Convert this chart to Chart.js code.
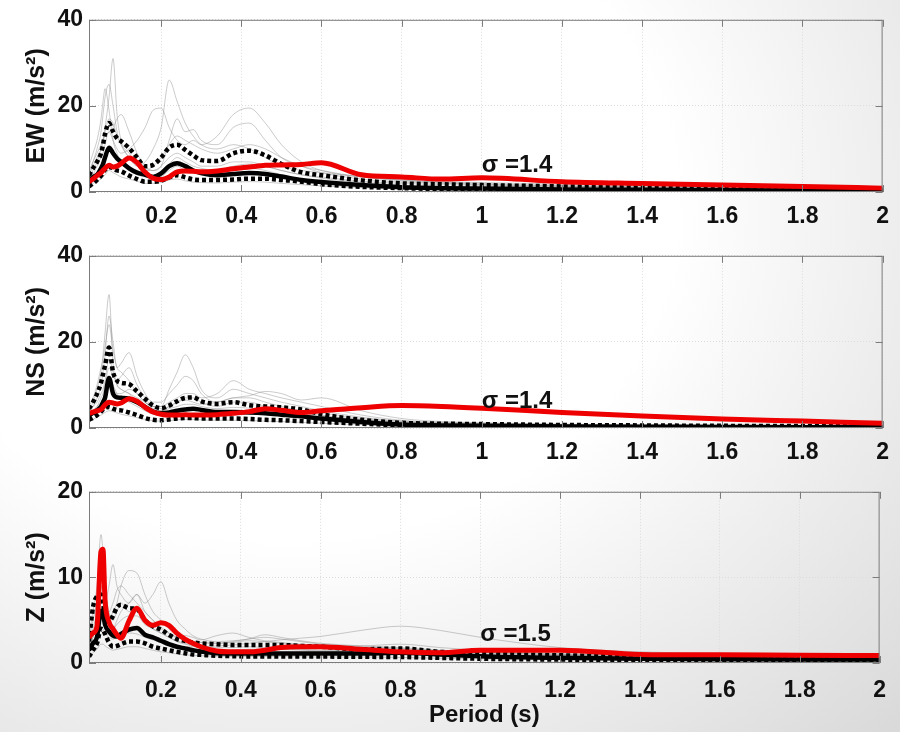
<!DOCTYPE html>
<html>
<head>
<meta charset="utf-8">
<script src="https://cdn.jsdelivr.net/npm/chart.js@4.4.0/dist/chart.umd.min.js"></script>
<style>
  body { margin: 0; width: 900px; height: 732px; overflow: hidden;
         background: radial-gradient(ellipse at 32% 28%, #ffffff 45%, #d9d9d9 100%); }
  canvas { position: absolute; left: 0; }
</style>
</head>
<body>
<canvas id="ew" width="900" height="236" style="top:0"></canvas>
<canvas id="ns" width="900" height="236" style="top:236px"></canvas>
<canvas id="z" width="900" height="260" style="top:472px"></canvas>
<script>
// periods (s) shared by every curve
const PERIOD = [0.02,0.03,0.04,0.05,0.055,0.06,0.07,0.08,0.09,0.1,0.12,0.14,0.16,0.18,0.2,0.22,0.24,0.26,0.28,0.3,0.34,0.38,0.42,0.46,0.5,0.55,0.6,0.7,0.8,0.9,1.0,1.2,1.4,1.6,1.8,2.0];
const XTICKS = [0.2,0.4,0.6,0.8,1,1.2,1.4,1.6,1.8,2];

// EW
const EW_RED = [2.4,3.0,3.8,4.5,5.0,5.5,6.2,5.8,6.0,6.6,7.9,6.8,4.6,3.2,2.9,3.5,4.7,4.9,4.8,4.7,4.9,5.4,5.8,6.2,6.3,6.4,6.8,4.0,3.5,3.0,3.3,2.4,2.0,1.65,1.3,0.9];
const EW_MED = [2.5,3.5,4.0,5.5,6.5,8.0,10.3,9.0,7.8,7.0,5.5,4.5,4.0,3.5,4.3,6.0,6.7,6.0,5.0,4.4,3.9,4.2,4.4,4.2,3.6,2.8,2.3,1.6,1.1,0.9,0.8,0.6,0.5,0.4,0.35,0.3];
const EW_HI = [3.9,5.5,7.0,9.0,11.0,13.5,16.0,14.0,12.5,11.8,10.2,8.0,6.0,6.3,8.0,10.3,11.0,9.8,8.5,7.4,7.2,9.0,9.6,8.5,6.5,4.6,3.9,2.7,2.0,1.8,1.6,1.3,1.0,0.8,0.7,0.6];
const EW_LO = [1.3,2.0,2.8,3.8,4.5,5.2,5.8,5.5,5.0,4.8,3.8,3.0,2.4,2.4,2.6,3.4,3.9,3.4,2.9,2.8,2.8,2.9,3.1,3.1,2.8,2.4,1.8,1.2,0.9,0.7,0.6,0.4,0.3,0.25,0.2,0.2];
const EW_REC = [
  [3,5,7,10,12,15,22,31,18,12,9,7,5,5,6,8,9,8,7,6,6,7,7,6,5,4,3.5,2.5,2,1.7,1.5,1.2,1,0.8,0.7,0.6],
  [4,7,10,14,18,22,25,20,14,11,8,6,7,10,15,26,21,16,13,11,10,11,10,8,6,5,4.5,3.5,2.8,2.4,2.2,1.8,1.5,1.2,1.0,0.9],
  [3,4,6,8,9,11,14,12,10,9,10,12,15,19,19.5,15,12,11,12,11,13,18,19.5,16,11,7,5,3.5,2.8,2.3,2,1.5,1.2,1.0,0.8,0.7],
  [5,7,9,11,12,13,14,15,17,18,14,9,6,5,6,12,17,14,14.5,12,11,15,16,12,8,6,5,3.5,2.6,2.1,1.8,1.4,1.1,0.9,0.8,0.7],
  [6,9,12,17,21,24,19,12,9,7,5,4,3.5,3,3.5,5,6,5,4.5,4,4,5,5.5,5,4,3,2.5,1.8,1.4,1.1,1,0.8,0.6,0.5,0.4,0.4],
  [1.5,2,2.5,3,3.5,4,5,4.5,4,3.5,3,2.5,2,2,2.2,2.8,3,2.6,2.3,2.2,2.1,2.3,2.4,2.3,2,1.7,1.4,1,0.7,0.6,0.5,0.4,0.3,0.25,0.2,0.2],
  [4,6,8,10,12,14,17,16,13,11,8,6,5,6,8,11,13,12,11,10,9,10,11,10,8,6,4.5,3,2.3,2,1.7,1.3,1.1,0.9,0.8,0.7],
  [2,3,4.5,6,7,8,10,9,8,7.5,6,5,4,3.5,4.5,6.5,8,7,6,5.5,5,6,6.5,6,5,4,3.2,2.2,1.6,1.3,1.1,0.9,0.7,0.6,0.5,0.4]
];

// NS
const NS_RED = [3.4,3.7,4.0,4.3,4.8,5.4,6.0,5.8,5.6,5.8,6.8,6.2,4.8,3.7,3.2,3.0,3.0,3.1,3.0,3.0,3.1,3.4,3.8,4.5,4.1,3.6,4.0,4.7,5.2,5.0,4.6,3.6,2.8,2.1,1.6,1.1];
const NS_MED = [3.0,3.5,4.1,5.0,6.0,7.0,11.6,8.0,7.1,7.0,6.8,6.0,4.9,3.8,3.4,3.6,4.0,4.3,4.5,4.2,3.7,3.7,3.6,3.4,3.1,2.7,2.2,1.4,0.8,0.6,0.5,0.35,0.3,0.25,0.2,0.2];
const NS_HI = [4.5,6.0,7.9,10.5,12.5,14.5,18.7,13.0,11.0,10.5,10.2,8.5,6.8,5.2,4.6,5.2,6.2,7.0,7.1,6.2,5.6,6.0,5.3,5.0,4.8,4.3,3.2,1.9,1.2,1.0,0.9,0.7,0.6,0.5,0.45,0.4];
const NS_LO = [1.9,2.4,3.0,3.8,4.3,4.7,4.9,4.5,4.2,4.1,3.6,3.0,2.3,1.9,1.8,2.0,2.2,2.3,2.3,2.2,2.2,2.2,2.1,1.9,1.8,1.6,1.4,1.0,0.6,0.4,0.3,0.2,0.15,0.1,0.1,0.1];
const NS_REC = [
  [4,6,9,13,17,22,31,15,10,9,8,6,5,4,4,5,6,7,7,6,5,6,6,5,4.5,4,3,2,1.3,1,0.8,0.6,0.5,0.4,0.3,0.3],
  [3,5,7,10,13,17,26,20,14,15,17.5,12,8,6,6,8,10,12,11,8,6,7,7,6,5,4,3.5,2.2,1.5,1.1,0.9,0.7,0.5,0.4,0.35,0.3],
  [3,4,5,7,8,10,14,12,11,12,14,10,7,5,5,9,13,17,14,9,7,9,8,7,6,5,4,2.5,1.6,1.2,1,0.8,0.6,0.5,0.4,0.4],
  [4,5,6,8,9,11,16,13,10,9,8,7,6,5,5,6,7,8,8,7,8,11,9,8,7,6,5,3,1.8,1.3,1.1,0.8,0.6,0.5,0.4,0.4],
  [1.5,2,2.5,3,3.3,3.6,4,3.8,3.5,3.2,2.8,2.4,2,1.7,1.6,1.7,1.9,2,2,1.9,1.8,1.8,1.7,1.6,1.5,1.3,1.1,0.8,0.5,0.4,0.3,0.2,0.15,0.1,0.1,0.1],
  [5,7,10,14,16,19,24,18,14,13,11,8,6,4.5,4,4.5,5,5.5,5.5,5,4.5,4.8,4.6,4.3,4,3.5,2.8,1.8,1.1,0.8,0.7,0.5,0.4,0.3,0.3,0.2],
  [3,4,5,6,7,8,10,9,8,8,9,8,6,5,4.5,5,6,6.5,6,5.5,6,7,7.5,8.5,8,6.5,7,4,2.2,1.5,1.2,0.9,0.7,0.6,0.5,0.4],
  [2.5,3.5,4.5,5.5,6.5,8,12,10,8,7,6,5,4,3.2,3,3.5,4,4.5,4.5,4,3.5,3.6,3.5,3.3,3.1,2.8,2.3,1.5,0.9,0.7,0.6,0.4,0.3,0.25,0.2,0.2]
];

// Z
const Z_RED = [3.0,3.5,4.3,13.0,13.3,7.5,4.8,4.0,3.3,2.9,4.9,6.4,5.0,4.4,4.7,4.4,3.5,2.8,2.3,1.9,1.4,1.3,1.3,1.5,1.8,1.9,1.9,1.6,1.3,1.2,1.5,1.5,1.0,0.95,0.9,0.87];
const Z_MED = [1.5,2.3,3.0,6.1,5.8,4.5,3.7,3.2,3.1,3.4,3.9,4.1,3.3,3.0,2.6,2.2,1.9,1.7,1.5,1.35,1.15,1.1,1.1,1.1,1.1,1.1,1.1,1.1,1.2,1.0,0.8,0.6,0.5,0.45,0.4,0.4];
const Z_HI = [2.5,6.5,7.8,8.0,7.0,5.5,4.8,5.5,6.5,6.8,6.4,6.3,5.0,4.3,3.9,3.3,2.8,2.6,2.4,2.3,2.2,2.1,2.1,2.1,2.1,2.0,1.9,1.6,1.7,1.3,1.1,0.9,0.75,0.7,0.65,0.6];
const Z_LO = [0.75,1.5,2.3,4.0,3.9,3.4,2.4,1.9,2.0,2.2,2.5,2.5,2.3,1.9,1.7,1.5,1.3,1.15,1.0,0.95,0.85,0.8,0.75,0.75,0.75,0.75,0.75,0.72,0.7,0.6,0.5,0.4,0.35,0.3,0.3,0.3];
const Z_REC = [
  [3,6,9,15,13,9,6,5,6,7,6,6,5,4,3.5,3,2.6,2.3,2.1,2,1.8,1.8,1.9,1.8,1.7,1.6,1.5,1.4,1.3,1.1,0.9,0.7,0.6,0.5,0.5,0.4],
  [2,4,6,9,8,7,9,11.5,9,8,7,8,6,5,4,3.5,3,2.7,2.5,2.4,2.3,2.4,2.6,2.5,2.3,2.1,2,1.8,1.7,1.4,1.2,0.9,0.8,0.7,0.6,0.6],
  [2,3,5,7,7,6,5,6,7,9,10.8,10.5,8,6,5,4,3.3,2.8,2.5,2.4,2.3,2.5,2.8,3,2.8,2.5,2.2,1.9,1.7,1.4,1.2,1,0.8,0.7,0.6,0.6],
  [1.5,2.5,3.5,5,5,4.5,4,4,5,6,7,8,7,8,9.5,7,5,4,3.2,2.8,2.5,2.6,2.8,3.3,3,2.6,2.3,2,1.8,1.5,1.3,1,0.9,0.8,0.7,0.6],
  [1.2,2,3,4,4,3.5,3,2.8,3,3.3,3.5,3.4,3,2.7,2.4,2.2,2,1.9,1.9,1.9,2,2.1,2.3,2.5,2.7,2.9,3.1,3.8,4.3,3.8,3,1.8,1.3,1.1,1,0.9],
  [0.8,1.2,1.6,2.2,2.2,2,1.7,1.5,1.6,1.7,1.9,1.9,1.7,1.5,1.3,1.2,1.05,0.95,0.9,0.85,0.8,0.75,0.75,0.75,0.75,0.72,0.7,0.7,0.65,0.55,0.5,0.4,0.35,0.3,0.3,0.25],
  [2.5,5,7,10,9,7,6,7,8.5,9,8,7,6,5,4.2,3.5,3,3.2,3,2.7,3.2,3.5,3,2.6,2.4,2.2,2.1,2,2.2,1.8,1.5,1.1,0.9,0.8,0.7,0.7],
  [1.8,3,4.5,6.5,6,5,4.5,4,4.5,5,5.5,5.5,4.5,4,3.5,3,2.5,2.2,2,1.8,1.5,1.5,1.6,1.6,1.6,1.5,1.4,1.3,1.3,1.1,0.9,0.7,0.6,0.5,0.5,0.4]
];

const FONT = 'Liberation Sans';

function pts(vals) {
  return vals.map((v, i) => ({ x: PERIOD[i], y: v }));
}

// matlab-ish box, inward ticks and the sigma text
const frame = {
  id: 'frame',
  afterDatasetsDraw(chart, args, opt) {
    const { ctx, chartArea: a, scales: { x, y } } = chart;
    ctx.save();
    ctx.strokeStyle = '#7c7c7c';
    ctx.lineWidth = 1;
    ctx.strokeRect(a.left + 0.5, a.top + 0.5, a.width - 1, a.height - 1);
    ctx.beginPath();
    XTICKS.forEach(v => {
      const px = Math.round(x.getPixelForValue(v)) + 0.5;
      ctx.moveTo(px, a.bottom); ctx.lineTo(px, a.bottom - 7);
      ctx.moveTo(px, a.top); ctx.lineTo(px, a.top + 7);
    });
    y.ticks.forEach(t => {
      const py = Math.round(y.getPixelForValue(t.value)) + 0.5;
      ctx.moveTo(a.left, py); ctx.lineTo(a.left + 7, py);
      ctx.moveTo(a.right, py); ctx.lineTo(a.right - 7, py);
    });
    ctx.stroke();
    ctx.fillStyle = '#111';
    ctx.font = 'bold 24px "' + FONT + '"';
    ctx.textBaseline = 'middle';
    ctx.fillText(opt.text, x.getPixelForValue(1), y.getPixelForValue(opt.y));
    ctx.restore();
  }
};

function makePanel(id, ytitle, ymax, ystep, red, med, hi, lo, recs, sigma, sigmaY, cfg) {
  const datasets = [];
  datasets.push({ data: pts(red), borderColor: '#ee0000', borderWidth: 5, order: 0 });
  datasets.push({ data: pts(med), borderColor: '#000', borderWidth: 4.5, order: 1 });
  datasets.push({ data: pts(hi), borderColor: '#000', borderWidth: 4.5, borderDash: [4, 3], order: 2 });
  datasets.push({ data: pts(lo), borderColor: '#000', borderWidth: 4.5, borderDash: [4, 3], order: 2 });
  recs.forEach(r => {
    datasets.push({ data: pts(r), borderColor: 'rgba(140,140,140,0.5)', borderWidth: 0.9, order: 3 });
  });

  new Chart(document.getElementById(id), {
    type: 'line',
    data: { datasets: datasets },
    options: {
      responsive: false,
      animation: false,
      layout: { padding: { top: cfg.top, right: 15, left: 0, bottom: 0 } },
      elements: { point: { radius: 0 }, line: { cubicInterpolationMode: 'monotone', fill: false } },
      plugins: {
        legend: { display: false },
        tooltip: { enabled: false },
        frame: { text: sigma, y: sigmaY }
      },
      scales: {
        x: {
          type: 'linear', min: 0.02, max: 2,
          afterBuildTicks: s => { s.ticks = XTICKS.map(v => ({ value: v })); },
          afterFit: s => { s.height = cfg.xh; },
          grid: { color: '#dcdcdc', drawTicks: false },
          border: { display: false, dash: [1, 2] },
          ticks: { padding: cfg.xpad, color: '#111', maxRotation: 0, autoSkip: false,
                   font: { family: FONT, size: 23, weight: 'bold' },
                   callback: v => String(v) },
          title: { display: !!cfg.xtitle, text: cfg.xtitle || '', color: '#111',
                   padding: { top: 0, bottom: 2 },
                   font: { family: FONT, size: 24, weight: 'bold' } }
        },
        y: {
          min: 0, max: ymax,
          ticks: { stepSize: ystep, padding: 6, color: '#111',
                   font: { family: FONT, size: 23, weight: 'bold' } },
          afterFit: s => { s.width = 89; },
          grid: { color: '#dcdcdc', drawTicks: false },
          border: { display: false, dash: [1, 2] },
          title: { display: true, text: ytitle, color: '#111',
                   padding: { top: 22, bottom: 0 },
                   font: { family: FONT, size: 25, weight: 'bold' } }
        }
      }
    },
    plugins: [frame]
  });
}

makePanel('ew', 'EW (m/s²)', 40, 20, EW_RED, EW_MED, EW_HI, EW_LO, EW_REC, 'σ =1.4', 6.1,
          { top: 15, xh: 44, xpad: 11 });
makePanel('ns', 'NS (m/s²)', 40, 20, NS_RED, NS_MED, NS_HI, NS_LO, NS_REC, 'σ =1.4', 6.3,
          { top: 15, xh: 44, xpad: 11 });
makePanel('z', 'Z (m/s²)', 20, 10, Z_RED, Z_MED, Z_HI, Z_LO, Z_REC, 'σ =1.5', 3.4,
          { top: 14, xh: 69, xpad: 14, xtitle: 'Period (s)' });
</script>
</body>
</html>
